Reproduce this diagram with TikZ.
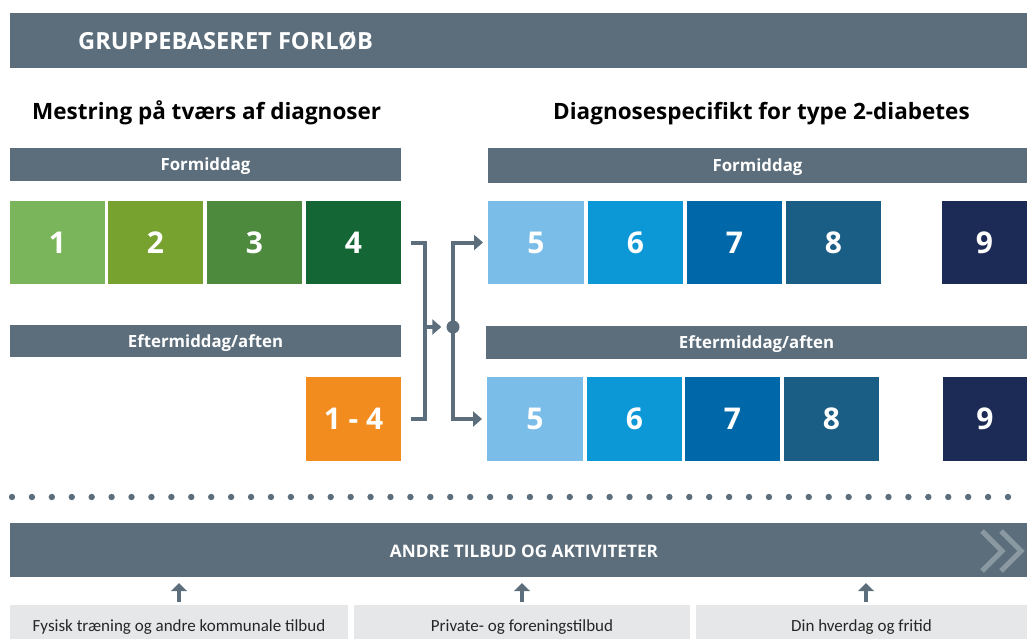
\documentclass[tikz,border=0pt]{standalone}
\usepackage{fontspec}
\setmainfont{Open Sans}
\newfontfamily\calib{Carlito}
\usetikzlibrary{arrows.meta}
\definecolor{bar}{HTML}{5C6E7C}
\definecolor{gA}{HTML}{7AB55C}
\definecolor{gB}{HTML}{77A22F}
\definecolor{gC}{HTML}{4E8A3E}
\definecolor{gD}{HTML}{146634}
\definecolor{org}{HTML}{F28C1E}
\definecolor{bA}{HTML}{7ABDE8}
\definecolor{bB}{HTML}{0C97D7}
\definecolor{bC}{HTML}{0068A8}
\definecolor{bD}{HTML}{1B5E85}
\definecolor{bE}{HTML}{1C2A56}
\definecolor{lgrey}{HTML}{E6E7E8}
\definecolor{chev}{HTML}{8A98A2}
\tikzset{
  boxnode/.style={inner sep=0pt, outer sep=0pt, text=white, font=\fontsize{30}{32}\selectfont\bfseries, minimum height=83pt, text height=21.4pt, text depth=0pt},
  barnode/.style={fill=bar, inner sep=0pt, outer sep=0pt, text=white, font=\fontsize{16.8}{19}\selectfont\bfseries, text height=12.1pt, text depth=0pt},
  headnode/.style={inner sep=0pt, font=\fontsize{22.5}{26}\selectfont\bfseries, text=black, text height=16.2pt, text depth=0pt},
  botnode/.style={fill=lgrey, inner sep=0pt, outer sep=0pt, font=\calib\fontsize{17}{20}\selectfont, text=black!85},
  conn/.style={draw=bar, line width=4pt},
  tip/.style={-{Triangle[length=9pt,width=15pt]}},
  uparr/.style={draw=bar, line width=4pt, -{Triangle[length=8pt,width=16pt]}}
}
\begin{document}
\begin{tikzpicture}[x=1pt,y=-1pt]
\useasboundingbox (0,0) rectangle (1027,639);
\clip (0,0) rectangle (1027,639);
% header
\node[fill=bar, inner sep=0pt, minimum width=1017pt, minimum height=55pt] (hdr) at (518.5,40.5) {};
\node[anchor=west, text=white, inner sep=0pt, font=\fontsize{23.6}{27}\selectfont\bfseries, text height=17pt, text depth=0pt] (hdrt) at (78,41) {GRUPPEBASERET FORLØB};
% headings
\node[headnode, anchor=west] (hl) at (32,111) {Mestring på tværs af diagnoser};
\node[headnode, anchor=west] (hr) at (553,111) {Diagnosespecifikt for type 2-diabetes};
% left bars
\node[barnode, minimum width=391pt, minimum height=33pt] (lf) at (205.5,164.5) {Formiddag};
\node[barnode, minimum width=391pt, minimum height=32pt] (le) at (205.5,341) {Eftermiddag/aften};
% left boxes
\node[boxnode, fill=gA, minimum width=95pt] (b1) at (57.5,242.5) {1};
\node[boxnode, fill=gB, minimum width=95pt] (b2) at (155.5,242.5) {2};
\node[boxnode, fill=gC, minimum width=95pt] (b3) at (254.5,242.5) {3};
\node[boxnode, fill=gD, minimum width=95pt] (b4) at (353.5,242.5) {4};
\node[boxnode, fill=org, minimum width=95pt, minimum height=84pt] (b14) at (353.5,419) {1 - 4};
% right bars
\node[barnode, minimum width=539pt, minimum height=35pt] (rf) at (757.5,165.5) {Formiddag};
\node[barnode, minimum width=541pt, minimum height=33pt] (re) at (756.5,342.5) {Eftermiddag/aften};
% right boxes row 1
\node[boxnode, fill=bA, minimum width=96pt] (r5) at (536,242.5) {5};
\node[boxnode, fill=bB, minimum width=95pt] (r6) at (635.5,242.5) {6};
\node[boxnode, fill=bC, minimum width=95pt] (r7) at (734.5,242.5) {7};
\node[boxnode, fill=bD, minimum width=95pt] (r8) at (833.5,242.5) {8};
\node[boxnode, fill=bE, minimum width=85pt] (r9) at (984.5,242.5) {9};
% right boxes row 2
\node[boxnode, fill=bA, minimum width=96pt, minimum height=84pt] (s5) at (535,419) {5};
\node[boxnode, fill=bB, minimum width=95pt, minimum height=84pt] (s6) at (634.5,419) {6};
\node[boxnode, fill=bC, minimum width=95pt, minimum height=84pt] (s7) at (732.5,419) {7};
\node[boxnode, fill=bD, minimum width=95pt, minimum height=84pt] (s8) at (831.5,419) {8};
\node[boxnode, fill=bE, minimum width=84pt, minimum height=84pt] (s9) at (985,419) {9};
% connectors
\coordinate (jx) at (425,327);
\node[circle, fill=bar, inner sep=0pt, minimum size=13pt] (dot) at (453,327) {};
\draw[conn] ([xshift=10pt]b4.east) -| (jx) |- ([xshift=10pt]b14.east);
\draw[conn, tip] (jx) -- ([xshift=-5pt]dot.west);
\draw[conn, tip] (dot.center) |- ([xshift=-5pt]r5.west);
\draw[conn, tip] (dot.center) |- ([xshift=-5pt]s5.west);
% dotted separator
\foreach \i in {0,...,50} \fill[bar] (12+\i*19.92,497) circle (3.2pt);
% bottom bar
\node[fill=bar, inner sep=0pt, minimum width=1017pt, minimum height=54pt] (bb) at (518.5,550) {};
\node[text=white, inner sep=0pt, font=\fontsize{17.2}{20}\selectfont\bfseries, text height=12.4pt, text depth=0pt] (bbt) at (524,551) {ANDRE TILBUD OG AKTIVITETER};
\draw[chev, line width=5pt] (982,531) -- (1002,551) -- (982,571);
\draw[chev, line width=5pt] (1001,531) -- (1021,551) -- (1001,571);
% bottom boxes
\node[botnode, minimum width=338pt, minimum height=44pt] (f1) at (179,627) {Fysisk træning og andre kommunale tilbud};
\node[botnode, minimum width=336pt, minimum height=44pt] (f2) at (522,627) {Private- og foreningstilbud};
\node[botnode, minimum width=331pt, minimum height=44pt] (f3) at (861.5,627) {Din hverdag og fritid};
\coordinate (t1) at (f1.north |- bb.south);
\coordinate (t2) at (f2.north |- bb.south);
\coordinate (t3) at ([xshift=4.5pt]f3.north |- bb.south);
\draw[uparr] ([yshift=3pt]f1.north) -- ([yshift=-6pt]t1);
\draw[uparr] ([yshift=3pt]f2.north) -- ([yshift=-6pt]t2);
\draw[uparr] ([yshift=3pt,xshift=4.5pt]f3.north) -- ([yshift=-6pt]t3);
\end{tikzpicture}
\end{document}
